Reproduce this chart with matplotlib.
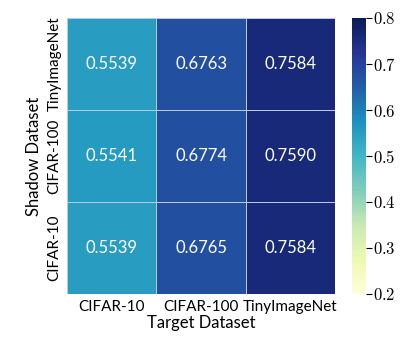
import matplotlib
matplotlib.use("Agg")
import matplotlib.pyplot as plt
import numpy as np
import seaborn as sns

targets = ["CIFAR-10", "CIFAR-100", "TinyImageNet"]
shadows = ["TinyImageNet", "CIFAR-100", "CIFAR-10"]
row_tiny = [0.5539, 0.6763, 0.7584]
row_c100 = [0.5541, 0.6774, 0.7590]
row_c10 = [0.5539, 0.6765, 0.7584]
cbar_ticks = [0.2, 0.3, 0.4, 0.5, 0.6, 0.7, 0.8]

plt.rcParams["font.family"] = ["Lato", "DejaVu Sans"]
plt.rcParams["mathtext.fontset"] = "cm"

vals = np.array([row_tiny, row_c100, row_c10])

fig = plt.figure(figsize=(4.15, 3.46), dpi=100)
ax = fig.add_axes([67 / 415, 1 - 294 / 346, 268 / 415, 276 / 346])
cax = fig.add_axes([352 / 415, 1 - 294 / 346, 14 / 415, 276 / 346])

sns.heatmap(vals, ax=ax, cbar_ax=cax, cmap="YlGnBu", vmin=0.2, vmax=0.8,
            annot=True, fmt=".4f", annot_kws={"size": 12, "color": "white"},
            linewidths=0.6, linecolor="#b8c8ee",
            xticklabels=targets, yticklabels=shadows)
ax.tick_params(length=0, labelsize=11, pad=4)
ax.set_xlabel("Target Dataset", fontsize=12, labelpad=1)
ax.set_ylabel("Shadow Dataset", fontsize=12, labelpad=4)
plt.setp(ax.get_yticklabels(), rotation=90, va="center")

cbar = ax.collections[0].colorbar
cbar.outline.set_visible(False)
cbar.set_ticks(cbar_ticks)
cbar.set_ticklabels([f"${t:.1f}$" for t in cbar_ticks])
cax.tick_params(labelsize=12, length=4, width=0.8, pad=1)

fig.savefig("out.png", dpi=100)
